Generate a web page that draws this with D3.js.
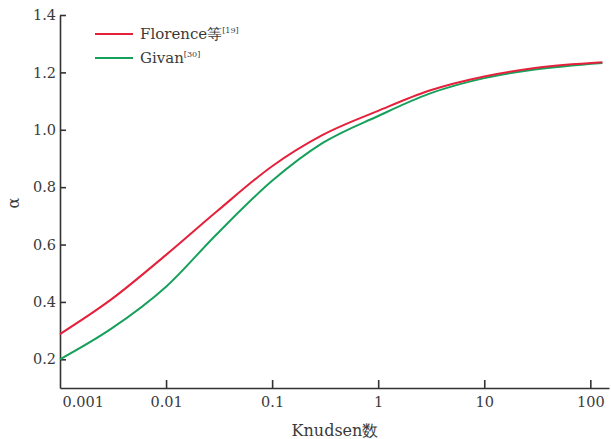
<!DOCTYPE html>
<html>
<head>
<meta charset="utf-8">
<script src="https://cdn.jsdelivr.net/npm/d3@7"></script>
<style>
  body { margin: 0; background: #fff; }
</style>
</head>
<body>
<div id="chart"></div>
<script>
// values
var knudsen = [0.001, 0.003, 0.01, 0.03, 0.1, 0.3, 1, 3, 10, 30, 130];
var florence = [0.288, 0.407, 0.564, 0.715, 0.873, 0.982, 1.066, 1.136, 1.186, 1.215, 1.235];
var givan = [0.2, 0.305, 0.453, 0.636, 0.822, 0.954, 1.048, 1.125, 1.18, 1.21, 1.233];
var xTicks = [0.001, 0.01, 0.1, 1, 10, 100];
var xTickLabels = ["0.001", "0.01", "0.1", "1", "10", "100"];
var yTicks = [0.2, 0.4, 0.6, 0.8, 1.0, 1.2, 1.4];

var width = 611, height = 439;
var serif = "'DejaVu Serif', 'Liberation Serif', serif";

var svg = d3.select("#chart").append("svg")
  .attr("width", width)
  .attr("height", height);

var x = d3.scaleLog()
  .domain([0.001, 150])
  .range([60, 609]);
var y = d3.scaleLinear()
  .domain([0.1, 1.4])
  .range([388, 15]);

// x axis
var gx = svg.append("g")
  .attr("transform", "translate(0,388)")
  .call(d3.axisBottom(x)
    .tickValues(xTicks)
    .tickFormat(function(d, i) { return xTickLabels[i]; })
    .tickSizeInner(-8)
    .tickSizeOuter(0)
    .tickPadding(9));
gx.attr("font-family", serif);
gx.select(".domain").attr("stroke", "#333").attr("stroke-width", 1.6);
gx.selectAll(".tick line").attr("stroke", "#333").attr("stroke-width", 1.6);
gx.selectAll(".tick text")
  .attr("font-family", serif)
  .attr("font-size", 14.5)
  .attr("fill", "#3a3a3a");
gx.selectAll(".tick").filter(function(d) { return d === 0.001; })
  .select("text").attr("text-anchor", "start").attr("x", 2);
gx.selectAll(".tick").filter(function(d) { return d === 0.001; })
  .select("line").remove();

// y axis
var gy = svg.append("g")
  .attr("transform", "translate(60,0)")
  .call(d3.axisLeft(y)
    .tickValues(yTicks)
    .tickFormat(d3.format(".1f"))
    .tickSizeInner(-6)
    .tickSizeOuter(0)
    .tickPadding(4));
gy.attr("font-family", serif);
gy.select(".domain").attr("stroke", "#333").attr("stroke-width", 1.6);
gy.selectAll(".tick line").attr("stroke", "#333").attr("stroke-width", 1.6);
gy.selectAll(".tick text")
  .attr("font-family", serif)
  .attr("font-size", 14.5)
  .attr("fill", "#3a3a3a");

// axis titles
svg.append("text")
  .attr("x", 335)
  .attr("y", 436)
  .attr("text-anchor", "middle")
  .attr("font-family", serif)
  .attr("font-size", 16)
  .attr("fill", "#3a3a3a")
  .text("Knudsen数");
svg.append("text")
  .attr("transform", "translate(19,203) rotate(-90)")
  .attr("text-anchor", "middle")
  .attr("font-family", serif)
  .attr("font-size", 16)
  .attr("fill", "#3a3a3a")
  .text("α");

// curves
var line = d3.line()
  .x(function(d) { return x(d[0]); })
  .y(function(d) { return y(d[1]); })
  .curve(d3.curveMonotoneX);

var series = [
  {name: "Florence等", ref: "[19]", values: florence, color: "#e5203b"},
  {name: "Givan", ref: "[30]", values: givan, color: "#17a05b"}
];

svg.selectAll(".curve")
  .data(series.slice().reverse())
  .enter()
  .append("path")
  .attr("class", "curve")
  .attr("fill", "none")
  .attr("stroke", function(d) { return d.color; })
  .attr("stroke-width", 2)
  .attr("d", function(d) {
    return line(knudsen.map(function(k, i) { return [k, d.values[i]]; }));
  });

// legend
var legend = svg.selectAll(".legend")
  .data(series)
  .enter()
  .append("g")
  .attr("class", "legend")
  .attr("transform", function(d, i) { return "translate(95," + (34 + i * 24) + ")"; });
legend.append("line")
  .attr("x1", 0).attr("x2", 38)
  .attr("stroke", function(d) { return d.color; })
  .attr("stroke-width", 2);
var lt = legend.append("text")
  .attr("x", 45)
  .attr("y", 5)
  .attr("font-family", serif)
  .attr("font-size", 15)
  .attr("fill", "#3a3a3a");
lt.append("tspan").text(function(d) { return d.name; });
lt.append("tspan")
  .attr("font-size", 8)
  .attr("dy", -6)
  .text(function(d) { return d.ref; });
</script>
</body>
</html>
